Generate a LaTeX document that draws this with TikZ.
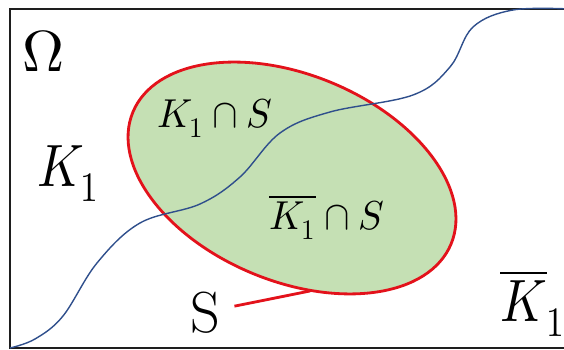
\documentclass[tikz,border=0pt]{standalone}
\usepackage{unicode-math}
\setmathfont{Latin Modern Math}
\usetikzlibrary{shapes.geometric}

\definecolor{setgreen}{HTML}{C5E0B4}
\definecolor{setred}{HTML}{E3121B}
\definecolor{curveblue}{HTML}{2F4F8C}
\definecolor{framegray}{HTML}{1E1E1E}

\begin{document}
\begin{tikzpicture}[
    x=0.02cm, y=-0.02cm,
    frame/.style={draw=framegray, line width=1.3pt},
    setS/.style={ellipse, draw=setred, fill=setgreen, line width=1.6pt,
        minimum width=6.89cm, minimum height=4.13cm, inner sep=0pt, rotate=-22.5},
    border/.style={draw=curveblue, line width=0.8pt},
    big/.style={inner sep=0pt, anchor=base west, xscale=0.85, font=\fontsize{34}{40}\selectfont},
    small/.style={inner sep=0pt, anchor=base west, xscale=0.95, font=\fontsize{23}{26}\selectfont},
    pointer/.style={draw=setred, line width=1.6pt}
]
    \useasboundingbox (0,0) rectangle (564,350);
    \clip (0,0) rectangle (564,350);

    % Frame
    \draw[frame] (570,9) -- (10,9) -- (10,348) -- (570,348);

    % Set S
    \node[setS] (S) at (292,178) {};

    % Boundary of K_1
    \draw[border] plot[smooth, tension=0.6] coordinates {
        (10,348) (35,339) (63,316) (97,263) (140,223) (200,204)
        (240,177) (280,133) (330,112) (413,95) (450,67) (473,27)
        (513,10) (570,9)};

    % Labels
    \node[big, xscale=1.18, font=\fontsize{33}{38}\selectfont] (omega) at (22,72) {$\Omega$};
    \node[big] (kone) at (37,187) {$K_1$};
    \node[small] (kones) at (157,128) {$K_1\cap S$};
    \node[small] (kbars) at (269,230) {$\overline{K_1}\cap S$};
    \node[big, xscale=1.18, font=\fontsize{33}{38}\selectfont] (slabel) at (190,333) {S};
    \node[big] (kbar) at (500,322) {$\overline{K}_1$};

    % Pointer to S
    \coordinate (stip) at (310,291);
    \draw[pointer] ([xshift=8pt, yshift=4pt]slabel.east) -- (stip);
\end{tikzpicture}
\end{document}
